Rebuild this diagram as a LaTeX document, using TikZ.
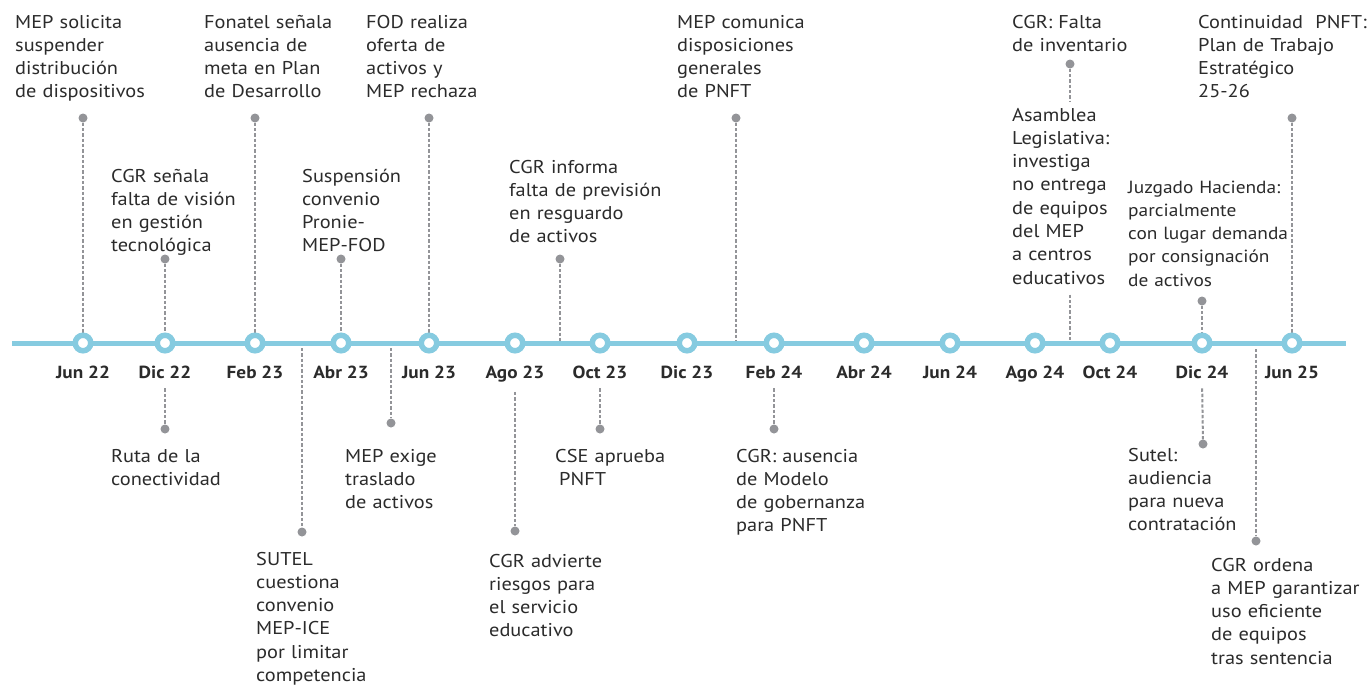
\documentclass[tikz,border=0pt]{standalone}
\usepackage{fontspec}
\setmainfont[FakeStretch=1.1]{PT Sans}
\hyphenpenalty=10000
\exhyphenpenalty=10000
\definecolor{tlblue}{HTML}{86CBE0}
\definecolor{dotgray}{HTML}{939498}
\definecolor{txt}{HTML}{2B2B2B}
\tikzset{
  evt/.style={anchor=base west, align=left, text width=190pt, inner sep=0pt, text=txt,
    font=\fontsize{18.5}{23.3}\selectfont},
  datelbl/.style={anchor=base, inner sep=0pt, text=txt,
    font=\fontsize{17.5}{22}\selectfont\bfseries},
  evdot/.style={circle, fill=dotgray, inner sep=0pt, minimum size=9pt},
  tick/.style={circle, draw=tlblue, line width=5.5pt, fill=white, inner sep=0pt, minimum size=15.5pt},
  conn/.style={draw=dotgray, line width=2pt, dash pattern=on 3.3pt off 2pt},
  tline/.style={draw=tlblue, line width=5pt}
}
\begin{document}
\begin{tikzpicture}[x=1pt,y=-1pt]
\useasboundingbox[fill=white] (0,0) rectangle (1367,686);
% timeline coordinates
\coordinate (L) at (12,343);
\coordinate (R) at (1346,343);
% tick positions
\foreach \n/\x/\d in {1/83/Jun 22,2/165/Dic 22,3/255/Feb 23,4/341/Abr 23,5/429/Jun 23,
  6/515/Ago 23,7/600/Oct 23,8/687/Dic 23,9/774/Feb 24,10/864/Abr 24,11/950/Jun 24,
  12/1035/Ago 24,13/1110/Oct 24,14/1202/Dic 24,15/1292/Jun 25}{
  \coordinate (tp\n) at (\x,343);
  \node[datelbl] (l\n) at (\x,378) {\d};
}
% free connector ends on the line
\coordinate (c6) at (560,343);
\coordinate (c7) at (736,343);
\coordinate (c8) at (1070,343);
\coordinate (c13) at (302,348);
\coordinate (c14) at (391,348);
\coordinate (c19) at (1256,349);

% ---- events above the line
\node[evt] (e1) at (15,28) {MEP solicita\\suspender\\distribución\\de dispositivos};
\node[evdot] (d1) at (83,118) {};
\node[evt] (e2) at (204,28) {Fonatel señala\\ausencia de\\meta en Plan\\de Desarrollo};
\node[evdot] (d2) at (255,118) {};
\node[evt] (e3) at (366,28) {FOD realiza\\oferta de\\activos y\\MEP rechaza};
\node[evdot] (d3) at (429,118) {};
\node[evt] (e4) at (111,182) {CGR señala\\falta de visión\\en gestión\\tecnológica};
\node[evdot] (d4) at (165,259) {};
\node[evt] (e5) at (302,182) {Suspensión\\convenio\\Pronie-\\MEP-FOD};
\node[evdot] (d5) at (341,259) {};
\node[evt] (e6) at (509,173) {CGR informa\\falta de previsión\\en resguardo\\de activos};
\node[evdot] (d6) at (560,259) {};
\node[evt] (e7) at (677,28) {MEP comunica\\disposiciones\\generales\\de PNFT};
\node[evdot] (d7) at (736,118) {};
\node[evt] (e8) at (1012,28) {CGR: Falta\\de inventario};
\node[evdot] (d8) at (1070,64) {};
\node[evt, text width=105pt] (e9) at (1012,121) {Asamblea\\Legislativa:\\investiga\\no entrega\\de equipos\\del MEP\\a centros\\educativos};
\node[evt, text width=168pt] (e10) at (1198,28) {Continuidad~ PNFT:\\Plan de Trabajo\\Estratégico\\25-26};
\node[evdot] (d10) at (1292,118) {};
\node[evt, text width=200pt, font=\fontsize{17.6}{23.3}\selectfont] (e11) at (1128,193) {Juzgado Hacienda:\\parcialmente\\con lugar demanda\\por consignación\\de activos};
\node[evdot] (d11) at (1202,301) {};

% ---- events below the line
\node[evdot] (d12) at (165,429) {};
\node[evt] (e12) at (111,462) {Ruta de la\\conectividad};
\node[evdot] (d13) at (302,532) {};
\node[evt] (e13) at (256,565) {SUTEL\\cuestiona\\convenio\\MEP-ICE\\por limitar\\competencia};
\node[evdot] (d14) at (391,423) {};
\node[evt] (e14) at (345,462) {MEP exige\\traslado\\de activos};
\node[evdot] (d15) at (515,531) {};
\node[evt] (e15) at (489,567) {CGR advierte\\riesgos para\\el servicio\\educativo};
\node[evdot] (d16) at (600,429) {};
\node[evt] (e16) at (555,462) {CSE aprueba\\\hspace*{4pt}PNFT};
\node[evdot] (d17) at (774,429) {};
\node[evt] (e17) at (736,462) {CGR: ausencia\\de Modelo\\de gobernanza\\para PNFT};
\node[evdot] (d18) at (1203,444) {};
\node[evt, text width=120pt] (e18) at (1128,461) {Sutel:\\audiencia\\para nueva\\contratación};
\node[evdot] (d19) at (1256,541) {};
\node[evt, text width=155pt] (e19) at (1211,571) {CGR ordena\\a MEP garantizar\\uso eficiente\\de equipos\\tras sentencia};

% ---- connectors
\draw[conn] (d1) -- (tp1);
\draw[conn] (d2) -- (tp3);
\draw[conn] (d3) -- (tp5);
\draw[conn] (d4) -- (tp2);
\draw[conn] (d5) -- (tp4);
\draw[conn] (d6) -- (c6);
\draw[conn] (d7) -- (c7);
\draw[conn, shorten >=6pt] (d8) -- (d8 |- e9.north);
\draw[conn, shorten <=10pt] (e9.south -| c8) -- (c8);
\draw[conn] (d10) -- (tp15);
\draw[conn] (d11) -- (tp14);
\draw[conn, shorten <=10pt] (l2.south) -- (d12);
\draw[conn] (c13) -- (d13);
\draw[conn] (c14) -- (d14);
\draw[conn, shorten <=10pt] (l6.south) -- (d15);
\draw[conn, shorten <=10pt] (l7.south) -- (d16);
\draw[conn, shorten <=10pt] (l9.south) -- (d17);
\draw[conn, shorten <=10pt] (l14.south) -- (d18);
\draw[conn] (c19) -- (d19);

% ---- timeline and ticks
\draw[tline] (L) -- (R);
\foreach \n in {1,...,15}{
  \node[tick] (t\n) at (tp\n) {};
}
\end{tikzpicture}
\end{document}
